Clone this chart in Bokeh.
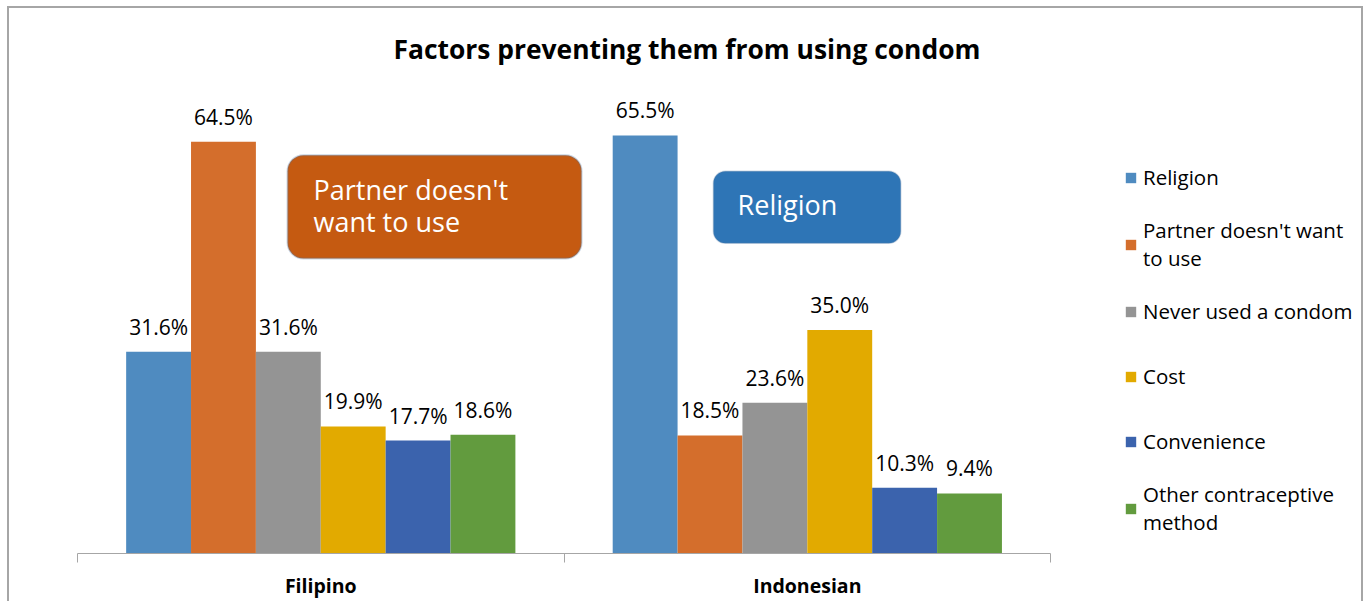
from bokeh.plotting import figure
from bokeh.models import (Range1d, ColumnDataSource, BoxAnnotation, Label,
                          Legend, LegendItem, LinearAxis, FixedTicker)
from bokeh.transform import dodge
from bokeh.core.properties import value
from bokeh.embed import file_html
from bokeh.resources import INLINE

# ---- data ----
groups = ["Filipino", "Indonesian"]
series = ["Religion", "Partner doesn't want\nto use", "Never used a condom",
          "Cost", "Convenience", "Other contraceptive\nmethod"]
religion = [31.6, 65.5]
partner = [64.5, 18.5]
never_used = [31.6, 23.6]
cost = [19.9, 35.0]
convenience = [17.7, 10.3]
other_method = [18.6, 9.4]
colors = ["#4F8BC0", "#D46E2C", "#949494", "#E2AA00", "#3B63AD", "#629B3E"]
title_text = "Factors preventing them from using condom"
callout_texts = ["Partner doesn't\nwant to use", "Religion"]

FONT = "Open Sans"
values_all = [religion, partner, never_used, cost, convenience, other_method]
centers = [i + 0.5 for i in range(len(groups))]

# frame spans the legend area too; axis line limited to the category span
p = figure(width=1352, height=593,
           x_range=Range1d(0, 2.639),
           y_range=Range1d(0, 74.1),
           x_axis_location=None, y_axis_location=None,
           output_backend="svg", toolbar_location=None,
           min_border_left=68, min_border_right=0,
           min_border_top=72, min_border_bottom=48)
p.margin = (8, 0, 0, 9)
p.styles = {"outline": "2px solid #A6A6A6"}
p.outline_line_color = None
p.xgrid.visible = False
p.ygrid.visible = False

p.title.text = title_text
p.title.text_font = FONT
p.title.text_font_size = "26.4px"
p.title.text_font_style = "bold"
p.title.text_color = "#000000"
p.title.align = "left"
p.title.offset = 316
p.title.standoff = 27

n = len(series)
bw = 0.8 / n
items = []
for i, (name, vals, col) in enumerate(zip(series, values_all, colors)):
    off = -0.4 + bw * (i + 0.5)
    src = ColumnDataSource(dict(gx=centers, g=groups, v=vals,
                                lab=[f"{v:.1f}%" for v in vals]))
    r = p.vbar(x=dodge("gx", off), top="v", width=bw, source=src,
               fill_color=col, line_color=None)
    p.text(x=dodge("gx", off), y="v", text="lab", source=src,
           text_align="center", text_baseline="middle", y_offset=-25,
           text_font=value(FONT), text_font_size="21px", text_color="#000000")
    items.append(LegendItem(label=name, renderers=[r]))

ax = LinearAxis(ticker=FixedTicker(ticks=centers,
                                   minor_ticks=list(range(len(groups) + 1))),
                bounds=(0, len(groups)),
                major_label_overrides={c: g for c, g in zip(centers, groups)},
                major_tick_out=0, major_tick_in=0,
                minor_tick_out=9, minor_tick_in=0,
                axis_line_color="#A6A6A6", minor_tick_line_color="#A6A6A6",
                major_label_text_font=FONT, major_label_text_font_style="bold",
                major_label_text_font_size="19.5px", major_label_text_color="#000000",
                major_label_standoff=9)
p.add_layout(ax, "below")

# callouts
p.add_layout(BoxAnnotation(left=0.4317, right=1.036, bottom=46.2, top=62.4,
                           fill_color="#C55A11", fill_alpha=1, line_color="#4A76A8",
                           line_width=2, border_radius=16, level="annotation"))
p.add_layout(Label(x=0.485, y=54.5, text=callout_texts[0], level="overlay",
                   text_font=FONT, text_font_size="27px", text_color="white",
                   text_baseline="middle", text_align="left", text_line_height=0.87))
p.add_layout(BoxAnnotation(left=1.307, right=1.692, bottom=48.6, top=59.9,
                           fill_color="#2E75B6", fill_alpha=1, line_color="#5A7EA6",
                           line_width=1.5, border_radius=12, level="annotation"))
p.add_layout(Label(x=1.3567, y=54.6, text=callout_texts[1], level="overlay",
                   text_font=FONT, text_font_size="27px", text_color="white",
                   text_baseline="middle", text_align="left"))

legend = Legend(items=items, location=(1047, 17), orientation="vertical",
                border_line_color=None, background_fill_alpha=0,
                glyph_width=13, glyph_height=13, label_standoff=6,
                label_text_font=FONT, label_text_font_size="20.5px",
                label_text_color="#000000",
                label_text_line_height=1.55, label_height=52, spacing=13,
                padding=0, margin=0)
p.add_layout(legend, "center")

open("out.html", "w").write(file_html(p, INLINE))
